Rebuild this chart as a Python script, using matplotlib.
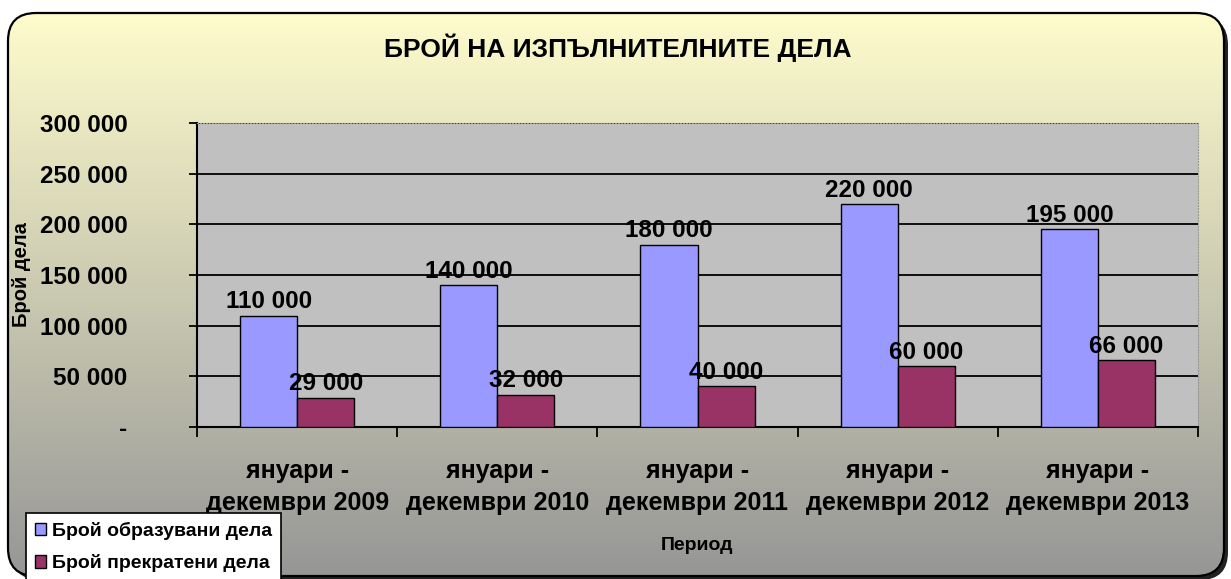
import numpy as np
import matplotlib
matplotlib.use('Agg')
import matplotlib.pyplot as plt
from matplotlib.patches import FancyBboxPatch, Patch

plt.rcParams['font.family'] = ['Liberation Sans', 'DejaVu Sans']
plt.rcParams['font.weight'] = 'bold'

periods = ['януари -\nдекември 2009', 'януари -\nдекември 2010', 'януари -\nдекември 2011',
           'януари -\nдекември 2012', 'януари -\nдекември 2013']
opened = [110000, 140000, 180000, 220000, 195000]
closed = [29000, 32000, 40000, 60000, 66000]
series_names = ['Брой образувани дела', 'Брой прекратени дела']
yticks = [0, 50000, 100000, 150000, 200000, 250000, 300000]

W, H = 1231, 579
fig = plt.figure(figsize=(W / 100, H / 100), dpi=100)
fig.patch.set_facecolor('white')

# background panel with gradient and rounded border
bg = fig.add_axes([0, 0, 1, 1], zorder=-1)
bg.set_xlim(0, W)
bg.set_ylim(H, 0)
bg.axis('off')
shadow = FancyBboxPatch((12, 17), 1216, 563, boxstyle='round,pad=0,rounding_size=28',
                        facecolor='#222222', edgecolor='none')
bg.add_patch(shadow)
panel = FancyBboxPatch((8, 13), 1216, 563, boxstyle='round,pad=0,rounding_size=28',
                       facecolor='none', edgecolor='black', linewidth=1.6, zorder=3)
bg.add_patch(panel)
top = np.array([254, 252, 204]) / 255
bot = np.array([150, 150, 150]) / 255
t = np.linspace(0, 1, 256)[:, None]
grad = top[None, :] * (1 - t) + bot[None, :] * t
img = bg.imshow(grad[:, None, :], extent=[8, 1224, 576, 13], aspect='auto', zorder=2)
img.set_clip_path(panel)

# plot area
ax = fig.add_axes([197 / W, (H - 427) / H, 1001 / W, 304 / H])
ax.set_facecolor('#c0c0c0')
x = np.arange(len(periods))
bw = 0.285
b1 = ax.bar(x - bw / 2, opened, bw, color='#9999ff', edgecolor='black', linewidth=1, zorder=3)
b2 = ax.bar(x + bw / 2, closed, bw, color='#993366', edgecolor='black', linewidth=1, zorder=3)
for rects, vals in ((b1, opened), (b2, closed)):
    for r, v in zip(rects, vals):
        ax.text(r.get_x() + r.get_width() / 2, v + 2500, f'{v:,}'.replace(',', ' '),
                ha='center', va='bottom', fontsize=17.5, fontweight='bold', zorder=4)

ax.set_xlim(-0.5, len(periods) - 0.5)
ax.set_ylim(0, 300000)
ax.set_yticks(yticks)
ax.set_yticklabels(['-'] + [f'{v:,}'.replace(',', ' ') for v in yticks[1:]], fontsize=17.5,
                   fontweight='bold')
ax.yaxis.grid(True, color='black', linewidth=1.3, zorder=1)
ax.set_axisbelow(True)
ax.tick_params(axis='y', length=6, width=1.3, pad=44)
for lab in ax.get_yticklabels():
    lab.set_horizontalalignment('right')
ax.set_xticks(np.arange(len(periods) + 1) - 0.5)
ax.set_xticklabels([])
ax.set_xticks(x, minor=True)
ax.set_xticklabels(periods, minor=True, fontsize=18, fontweight='bold', linespacing=1.45)
ax.tick_params(axis='x', which='major', length=7, width=1.3, direction='out')
ax.tick_params(axis='x', which='minor', length=0, pad=23)
for s in ('top', 'right'):
    ax.spines[s].set_color('#999999')
    ax.spines[s].set_linestyle(':')
    ax.spines[s].set_linewidth(0.8)
for s in ('left', 'bottom'):
    ax.spines[s].set_linewidth(1.5)

fig.text(618 / W, 1 - 48 / H, 'БРОЙ НА ИЗПЪЛНИТЕЛНИТЕ ДЕЛА', ha='center', va='center',
         fontsize=19, fontweight='bold')
fig.text(22 / W, 1 - 275 / H, 'Брой дела', rotation=90, ha='center', va='center',
         fontsize=14.5, fontweight='bold')
fig.text(697 / W, 1 - 545 / H, 'Период', ha='center', va='center', fontsize=14,
         fontweight='bold')

handles = [Patch(facecolor='#9999ff', edgecolor='black'),
           Patch(facecolor='#993366', edgecolor='black')]
leg = fig.legend(handles, series_names, loc='upper left', bbox_to_anchor=(26 / W, 1 - 513 / H),
                 prop={'size': 14, 'weight': 'bold'}, frameon=True, fancybox=False,
                 edgecolor='black', framealpha=1, handlelength=0.6, handleheight=0.6,
                 handletextpad=0.3, borderpad=0.45, labelspacing=0.75, borderaxespad=0)
leg.get_frame().set_linewidth(1.2)

fig.savefig('out.png', dpi=100)
